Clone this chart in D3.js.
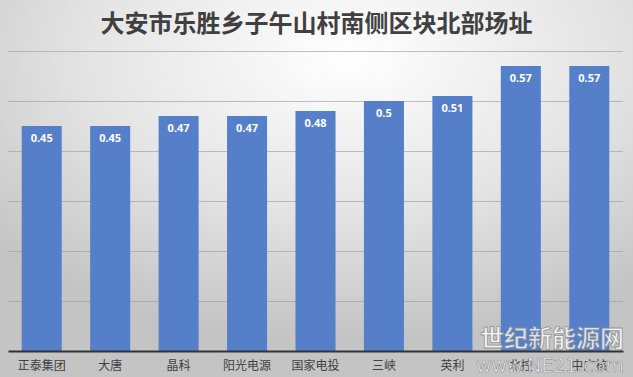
<!DOCTYPE html>
<html>
<head>
<meta charset="utf-8">
<script src="https://cdn.jsdelivr.net/npm/d3@7"></script>
<style>
  body { margin: 0; }
  svg { display: block; font-family: 'Noto Sans CJK SC', 'Microsoft YaHei', sans-serif; }
</style>
</head>
<body>
<div id="chart"></div>
<script>
const title = '大安市乐胜乡子午山村南侧区块北部场址'
const companies = ['正泰集团', '大唐', '晶科', '阳光电源', '国家电投', '三峡', '英利', '北控', '中广核']
const prices = [0.45, 0.45, 0.47, 0.47, 0.48, 0.5, 0.51, 0.57, 0.57]
const gridTicks = [0.1, 0.2, 0.3, 0.4, 0.5, 0.6]

const W = 633
const H = 377
const margin = { top: 51, left: 8, right: 10, bottom: 26 }
const width = W - margin.left - margin.right
const height = H - margin.top - margin.bottom

const svg = d3
  .select('#chart')
  .append('svg')
  .attr('width', W)
  .attr('height', H)

// background gradient, light in the upper middle, grey at the edges
const defs = svg.append('defs')
const bg = defs
  .append('radialGradient')
  .attr('id', 'bg')
  .attr('cx', '55%')
  .attr('cy', '15%')
  .attr('r', '75%')
bg.append('stop').attr('offset', '0%').attr('stop-color', '#ffffff')
bg.append('stop').attr('offset', '55%').attr('stop-color', '#e4e4e4')
bg.append('stop').attr('offset', '100%').attr('stop-color', '#c4c4c4')

svg
  .append('rect')
  .attr('width', W)
  .attr('height', H)
  .attr('fill', 'url(#bg)')

svg
  .append('text')
  .attr('x', W / 2)
  .attr('y', 32)
  .attr('text-anchor', 'middle')
  .attr('font-size', 24)
  .attr('font-weight', 'bold')
  .attr('fill', '#404040')
  .text(title)

const g = svg
  .append('g')
  .attr('transform', 'translate(' + margin.left + ',' + margin.top + ')')

const x = d3
  .scaleBand()
  .domain(companies)
  .range([0, width])
  .paddingInner(0.415)
  .paddingOuter(0.2)

const y = d3.scaleLinear().domain([0, 0.6]).range([height, 0])

// gridlines
const yAxis = d3
  .axisRight(y)
  .tickValues(gridTicks)
  .tickSize(width)
  .tickFormat('')
g.append('g')
  .attr('class', 'grid')
  .call(yAxis)
  .call(s => s.select('.domain').remove())
  .selectAll('.tick line')
  .attr('stroke', '#9a9a9a')
  .attr('stroke-opacity', 0.6)

// site watermark, bottom right (drawn under the axis labels)
const wm = svg.append('g').attr('opacity', 0.8)
wm.append('text')
  .attr('x', 624)
  .attr('y', 347)
  .attr('text-anchor', 'end')
  .attr('font-size', 24)
  .attr('font-weight', 'bold')
  .attr('fill', '#ffffff')
  .attr('stroke', '#8a8a8a')
  .attr('stroke-width', 0.8)
  .text('世纪新能源网')
wm.append('text')
  .attr('x', 624)
  .attr('y', 372)
  .attr('text-anchor', 'end')
  .attr('font-family', 'DejaVu Sans, sans-serif')
  .attr('font-size', 19)
  .attr('fill', '#ffffff')
  .attr('stroke', '#8a8a8a')
  .attr('stroke-width', 0.7)
  .text('www.NE21.com')

g.selectAll('rect.bar')
  .data(prices)
  .enter()
  .append('rect')
  .attr('class', 'bar')
  .attr('x', (d, i) => x(companies[i]))
  .attr('y', d => y(d))
  .attr('width', x.bandwidth())
  .attr('height', d => height - y(d))
  .attr('fill', '#5580c9')

g.selectAll('text.val')
  .data(prices)
  .enter()
  .append('text')
  .attr('class', 'val')
  .attr('x', (d, i) => x(companies[i]) + x.bandwidth() / 2)
  .attr('y', d => y(d) + 16)
  .attr('text-anchor', 'middle')
  .attr('font-family', 'Open Sans, sans-serif')
  .attr('font-size', 11)
  .attr('font-weight', 'bold')
  .attr('fill', '#ffffff')
  .text(d => d)

const xAxis = d3.axisBottom(x).tickSize(0).tickPadding(10)
g.append('g')
  .attr('class', 'axis x-axis')
  .attr('transform', 'translate(0,' + height + ')')
  .call(xAxis)
  .call(s =>
    s.select('.domain').attr('stroke', '#333').attr('stroke-width', 2)
  )
  .selectAll('text')
  .attr('font-size', 12)
  .attr('font-family', 'Noto Sans CJK SC, sans-serif')
  .attr('fill', '#404040')
</script>
</body>
</html>
